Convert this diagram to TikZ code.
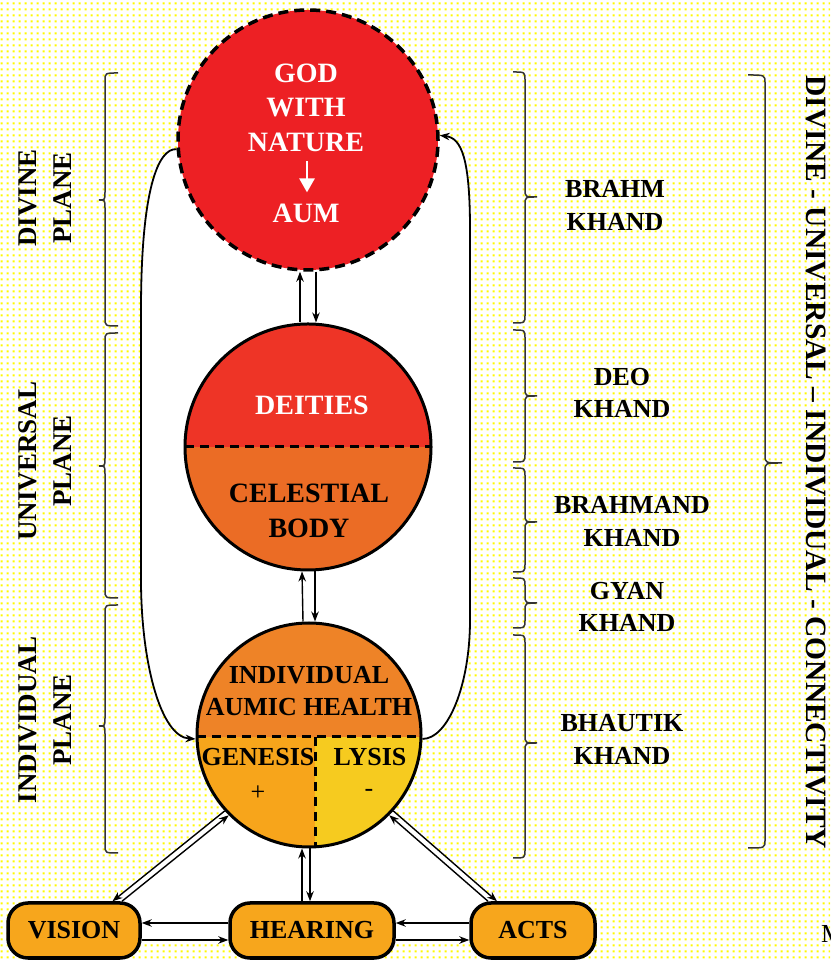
\documentclass[tikz,border=0pt]{standalone}
\usepackage{fontspec}
\setmainfont{Liberation Serif}
\usetikzlibrary{arrows.meta,calc,patterns}
\pgfdeclarelayer{bg}
\pgfsetlayers{bg,main}
\pgfdeclarepatternformonly{ydots}{\pgfpointorigin}{\pgfqpoint{6pt}{6pt}}{\pgfqpoint{6pt}{6pt}}{\pgfpathrectangle{\pgfqpoint{1.75pt}{1.75pt}}{\pgfqpoint{2.5pt}{2.5pt}}\pgfusepath{fill}}
\definecolor{cgod}{RGB}{237,32,36}
\definecolor{cdei}{RGB}{238,52,38}
\definecolor{ccel}{RGB}{235,108,37}
\definecolor{cind}{RGB}{238,131,39}
\definecolor{cgen}{RGB}{247,165,27}
\definecolor{clys}{RGB}{246,203,31}
\definecolor{cbox}{RGB}{247,166,28}
\definecolor{cdot}{RGB}{255,250,0}
\newcommand\mybr[6]{\draw[brc] (#1,#4) .. controls (#1+#2,#4) .. (#1+#2,#4-8) -- (#1+#2,#5+8) .. controls (#1+#2,#5) .. (#1+#3,#5) .. controls (#1+#2,#5) .. (#1+#2,#5-8) -- (#1+#2,#6+8) .. controls (#1+#2,#6) .. (#1,#6);}
\begin{document}
\begin{tikzpicture}[x=1pt,y=1pt,
  circ/.style={circle, inner sep=0pt, draw, line width=3pt},
  dsh/.style={line width=3pt, dash pattern=on 9pt off 6pt},
  arr/.style={-{Stealth[length=10pt,width=7.5pt]}, line width=1.4pt},
  lp/.style={-{Stealth[length=10pt,width=7.5pt]}, line width=1.8pt},
  brc/.style={line width=1.5pt, draw=black!80},
  wtxt/.style={text=white, align=center, inner sep=0pt, font=\fontsize{28}{34.5}\selectfont\bfseries},
  btxt/.style={align=center, inner sep=0pt, font=\fontsize{28}{35}\selectfont\bfseries},
  stxt/.style={align=center, inner sep=0pt, font=\fontsize{26}{32}\selectfont\bfseries},
  ptxt/.style={align=center, inner sep=0pt, rotate=90, font=\fontsize{27}{35}\selectfont\bfseries},
  ltxt/.style={align=center, inner sep=0pt, font=\fontsize{26}{32.5}\selectfont\bfseries},
  boxs/.style={draw, line width=3.5pt, fill=cbox, rounded corners=20pt, minimum height=55pt, inner sep=0pt, font=\fontsize{26}{30}\selectfont\bfseries}]
\useasboundingbox (0,0) rectangle (830,960);

% ---- circles
\fill[cgod] (308,820) circle (130);
\node[circle, inner sep=0pt, minimum size=260pt, draw, line width=3.5pt, dash pattern=on 10pt off 6pt] (god) at (308,820) {};

\begin{scope}
\clip (308,513) circle (123);
\fill[cdei] (180,513) rectangle (436,640);
\fill[ccel] (180,385) rectangle (436,513);
\end{scope}
\draw[dsh] (185,513) -- (431,513);
\node[circ, minimum size=246pt] (mid) at (308,513) {};

\begin{scope}
\clip (309,225) circle (112);
\fill[cind] (195,223) rectangle (423,340);
\fill[cgen] (195,110) rectangle (315,223);
\fill[clys] (315,110) rectangle (423,223);
\end{scope}
\draw[dsh] (197,223) -- (421,223);
\draw[dsh] (315,223) -- (315,113);
\node[circ, minimum size=224pt] (bc) at (309,225) {};

% ---- circle texts
\node[wtxt] (gwn) at (306,852.5) {GOD\\WITH\\NATURE};
\node[wtxt] (aum) at (306,747) {AUM};
\draw[white, line width=2.6pt, -{Triangle[length=14pt,width=15pt]}] ([xshift=1pt,yshift=42pt]aum.north) -- ([xshift=1pt,yshift=11pt]aum.north);
\node[wtxt] (dei) at (312,555) {DEITIES};
\node[btxt] (cel) at (309,449.5) {CELESTIAL\\BODY};
\node[stxt] (iah) at (309,269) {INDIVIDUAL\\AUMIC HEALTH};
\node[stxt] (gen) at (258,203) {GENESIS};
\node[stxt] (lys) at (370,203) {LYSIS};
\node[inner sep=0pt, font=\fontsize{26}{30}\selectfont] (plus) at (258,167) {+};
\node[inner sep=0pt, font=\fontsize{26}{30}\selectfont] (minus) at (369,167) {-};

% ---- boxes
\node[boxs, minimum width=132pt] (vis) at (74,29.5) {VISION};
\node[boxs, minimum width=164pt] (hear) at (312,29.5) {HEARING};
\node[boxs, minimum width=124pt] (acts) at (533,29.5) {ACTS};

% ---- connectors
\draw[arr] ([xshift=-8pt]mid.north) -- ([xshift=-8pt]god.south);
\draw[arr] ([xshift=8pt]god.south) -- ([xshift=8pt]mid.north);
\draw[arr] ([xshift=-6pt]bc.north) -- ([xshift=-6pt]mid.south);
\draw[arr] ([xshift=7pt]mid.south) -- ([xshift=6pt]bc.north);
\draw[arr] ([xshift=-10pt]hear.north) -- ([xshift=-7pt]bc.south);
\draw[arr] ([xshift=1pt]bc.south) -- ([xshift=-2pt]hear.north);

\draw[arr] ([yshift=7.5pt]hear.west) -- ([yshift=7.5pt]vis.east);
\draw[arr] ([yshift=-9.5pt]vis.east) -- ([yshift=-9.5pt]hear.west);
\draw[arr] ([yshift=7.5pt]acts.west) -- ([yshift=7.5pt]hear.east);
\draw[arr] ([yshift=-9.5pt]hear.east) -- ([yshift=-9.5pt]acts.west);

\draw[arr] ([xshift=48pt]vis.north) -- (bc.225);
\draw[arr] (bc.222) -- ([xshift=38.5pt]vis.north);
\draw[arr] ([xshift=-45pt]acts.north) -- (bc.315);
\draw[arr] (bc.318) -- ([xshift=-36pt]acts.north);

\draw[lp] (god.184) .. controls (158,812) and (141,770) .. (141,650) -- (141,380) .. controls (141,300) and (160,223) .. (bc.182);
\draw[lp] (bc.358) .. controls (448,221) and (470,275) .. (470,340) -- (470,730) .. controls (470,800) and (462,822) .. (god.2);

% ---- braces
\mybr{118}{-13}{-19}{887}{760}{634}
\mybr{118}{-13}{-19}{627}{494}{362}
\mybr{118}{-13}{-19}{355}{234}{107}
\mybr{513}{12}{24}{888}{763}{637}
\mybr{513}{12}{24}{630}{564}{498}
\mybr{513}{12}{24}{492}{438}{388}
\mybr{513}{12}{24}{382}{357}{332}
\mybr{513}{12}{24}{325}{217}{102}
\mybr{748}{17}{34}{885}{497}{112}

% ---- labels
\node[ptxt] (dp) at (45.5,762) {DIVINE\\PLANE};
\node[ptxt] (up) at (45.5,499) {UNIVERSAL\\PLANE};
\node[ptxt] (ip) at (45.5,240) {INDIVIDUAL\\PLANE};

\node[ltxt] (brahm) at (615,754.5) {BRAHM\\KHAND};
\node[ltxt] (deo) at (622,567) {DEO\\KHAND};
\node[ltxt] (brahmand) at (632,438.5) {BRAHMAND\\KHAND};
\node[ltxt] (gyan) at (627,353) {GYAN\\KHAND};
\node[ltxt] (bhautik) at (622,220.5) {BHAUTIK\\KHAND};

\node[inner sep=0pt, rotate=-90, font=\fontsize{29.5}{32}\selectfont\bfseries] (conn) at (816,497.5) {DIVINE - UNIVERSAL – INDIVIDUAL - CONNECTIVITY};
\node[anchor=west, inner sep=0pt, font=\fontsize{26}{30}\selectfont] (m) at (821,26) {M};

% ---- background
\begin{pgfonlayer}{bg}
\fill[white] (0,0) rectangle (830,960);
\fill[pattern=ydots, pattern color=cdot] (0,0) rectangle (830,960);
\fill[white] (god.184) .. controls (158,812) and (141,770) .. (141,650) -- (141,380) .. controls (141,300) and (160,223) .. (bc.182) -- (bc.358) .. controls (448,221) and (470,275) .. (470,340) -- (470,730) .. controls (470,800) and (462,822) .. (god.2) -- cycle;
\fill[white] ([xshift=38.5pt]vis.north) -- (bc.222) -- (bc.318) -- ([xshift=-36pt]acts.north) -- (497,20) -- (109,20) -- cycle;
\end{pgfonlayer}
\end{tikzpicture}
\end{document}
